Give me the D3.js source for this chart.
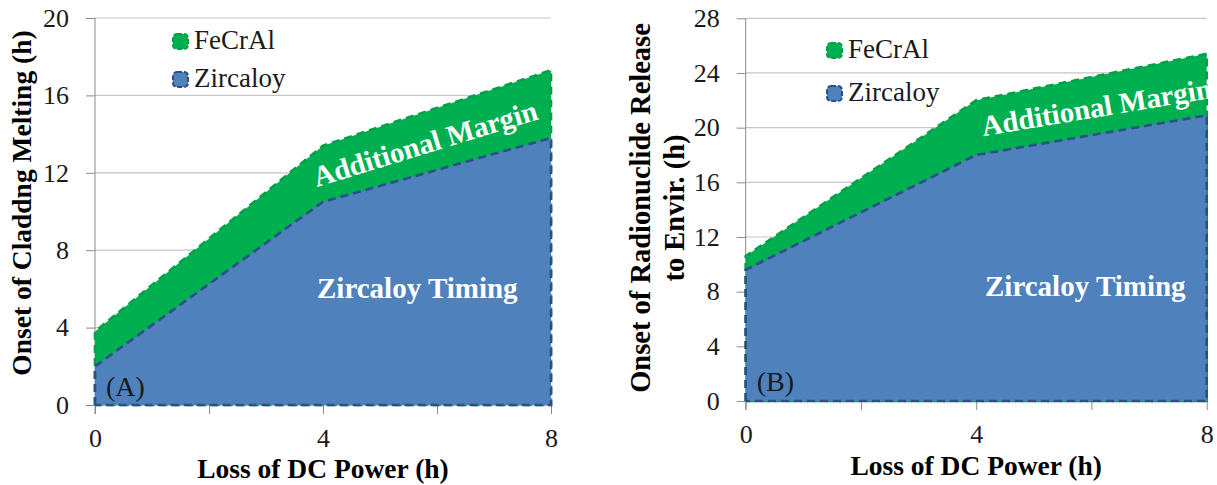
<!DOCTYPE html>
<html>
<head>
<meta charset="utf-8">
<script src="https://cdn.jsdelivr.net/npm/d3@7"></script>
</head>
<body style="margin:0">
<svg id="chart" width="1217" height="485" font-family="Liberation Serif"></svg>
<script>
// loss of DC power duration (h)
var hours = [0, 4, 8];
var xTicks = [0, 2, 4, 6, 8];
var xTickLabels = [0, 4, 8];

// panel A: onset of cladding melting (h)
var meltZircaloy = [2.0, 10.5, 13.8];
var meltFeCrAl = [3.8, 13.4, 17.3];
var meltTicks = [0, 4, 8, 12, 16, 20];

// panel B: onset of radionuclide release to environment (h)
var releaseZircaloy = [9.6, 18.0, 20.9];
var releaseFeCrAl = [10.6, 22.0, 25.4];
var releaseTicks = [0, 4, 8, 12, 16, 20, 24, 28];

var seriesNames = ["FeCrAl", "Zircaloy"];

var green = "#00b050", greenLine = "#00a048";
var blue = "#4f81bd", blueLine = "#2b4f86";

var svg = d3.select("#chart");

// every text gets the serif font as an attribute
function txt(sel, size, bold) {
  return sel.attr("font-family", "Liberation Serif").attr("font-size", size)
    .attr("font-weight", bold ? "bold" : "normal");
}

function panel(cfg) {
  var x = d3.scaleLinear().domain([0, 8]).range([cfg.left, cfg.right]);
  var y = d3.scaleLinear().domain([0, d3.max(cfg.yTicks)]).range([cfg.bottom, cfg.top]);
  var g = svg.append("g");

  // gridlines
  g.selectAll(".grid").data(cfg.yTicks.slice(1)).enter().append("line")
    .attr("x1", cfg.left).attr("x2", cfg.right)
    .attr("y1", d => y(d)).attr("y2", d => y(d))
    .attr("stroke", "#c6c6c6").attr("stroke-width", 1.2);

  // y axis
  var yAxis = d3.axisLeft(y).tickValues(cfg.yTicks).tickSize(9).tickPadding(17);
  var ya = g.append("g").attr("transform", "translate(" + cfg.left + ",0)").call(yAxis);
  ya.attr("font-family", "Liberation Serif").attr("font-size", 26);
  ya.select(".domain").attr("stroke", "#8c8c8c").attr("d", "M0," + (cfg.bottom + 9) + "V" + cfg.top);
  ya.selectAll(".tick line").attr("stroke", "#8c8c8c");
  txt(ya.selectAll(".tick text"), 26).attr("fill", "#1a1a1a");

  // x axis
  var xAxis = d3.axisBottom(x).tickValues(xTicks).tickSize(9).tickPadding(14.5)
    .tickFormat(d => xTickLabels.indexOf(d) >= 0 ? d : "");
  var xa = g.append("g").attr("transform", "translate(0," + cfg.bottom + ")").call(xAxis);
  xa.attr("font-family", "Liberation Serif").attr("font-size", 26);
  xa.select(".domain").attr("stroke", "#8c8c8c").attr("d", "M" + cfg.left + ",0H" + cfg.right);
  xa.selectAll(".tick line").attr("stroke", "#8c8c8c");
  txt(xa.selectAll(".tick text"), 26).attr("fill", "#1a1a1a");

  // areas (FeCrAl behind, Zircaloy in front)
  var area = d3.area().x((d, i) => x(hours[i])).y0(y(0)).y1(d => y(d));
  function drawArea(vals, fill, stroke) {
    var pts = [[x(0), y(0)]].concat(vals.map((v, i) => [x(hours[i]), y(v)])).concat([[x(8), y(0)], [x(0), y(0)]]);
    g.append("path").attr("d", area(vals)).attr("fill", fill);
    g.append("path").attr("d", d3.line()(pts)).attr("fill", "none")
      .attr("stroke", stroke).attr("stroke-width", 2.6).attr("stroke-dasharray", "8,5");
  }
  drawArea(cfg.fecral, green, greenLine);
  drawArea(cfg.zirc, blue, blueLine);

  // legend
  var leg = g.append("g").attr("transform", "translate(" + cfg.legX + "," + cfg.legY + ")");
  seriesNames.forEach(function(name, i) {
    var row = leg.append("g").attr("transform", "translate(0," + (i * cfg.legGap) + ")");
    row.append("rect").attr("x", 1).attr("y", -15).attr("width", 15).attr("height", 15).attr("rx", 4)
      .attr("fill", i === 0 ? green : blue).attr("stroke", i === 0 ? greenLine : blueLine)
      .attr("stroke-width", 2).attr("stroke-dasharray", "5,2");
    txt(row.append("text").attr("x", 22).attr("y", 0), 27).attr("fill", "#1a1a1a").text(name);
  });

  // annotations
  txt(g.append("text")
    .attr("transform", "translate(" + cfg.marginX + "," + cfg.marginY + ") rotate(" + cfg.marginAngle + ")")
    .attr("text-anchor", "middle"), 29, true).attr("fill", "#fff")
    .text("Additional Margin");
  txt(g.append("text").attr("x", cfg.timingX).attr("y", cfg.timingY), 29, true)
    .attr("fill", "#fff").text("Zircaloy Timing");
  txt(g.append("text").attr("x", cfg.left + 11).attr("y", cfg.labelY), 28)
    .attr("fill", "#1a1a1a").text(cfg.label);

  // axis titles
  txt(g.append("text").attr("x", (cfg.left + cfg.right) / 2).attr("y", cfg.bottom + cfg.xTitleDy)
    .attr("text-anchor", "middle"), 27.5, true).attr("fill", "#000").text("Loss of DC Power (h)");
  cfg.yTitle.forEach(function(t, i) {
    txt(g.append("text")
      .attr("transform", "translate(" + (cfg.yTitleX + i * 34) + "," + cfg.yTitleY + ") rotate(-90)")
      .attr("text-anchor", "middle"), cfg.yTitleSize, true).attr("fill", "#000").text(t);
  });
}

panel({
  left: 95, right: 551, top: 18, bottom: 405,
  yTicks: meltTicks, zirc: meltZircaloy, fecral: meltFeCrAl,
  legX: 172, legY: 49, legGap: 38,
  marginX: 428, marginY: 153, marginAngle: -17,
  timingX: 317, timingY: 298,
  label: "(A)", labelY: 396, xTitleDy: 73,
  yTitle: ["Onset of Claddng Melting (h)"], yTitleX: 31, yTitleY: 203, yTitleSize: 27.5
});

panel({
  left: 745.7, right: 1206.7, top: 18.3, bottom: 401,
  yTicks: releaseTicks, zirc: releaseZircaloy, fecral: releaseFeCrAl,
  legX: 826, legY: 58, legGap: 43,
  marginX: 1098, marginY: 117, marginAngle: -9.5,
  timingX: 985, timingY: 296,
  label: "(B)", labelY: 391, xTitleDy: 74,
  yTitle: ["Onset of Radionuclide Release", "to Envir. (h)"], yTitleX: 650, yTitleY: 208, yTitleSize: 28.5
});
</script>
</body>
</html>
